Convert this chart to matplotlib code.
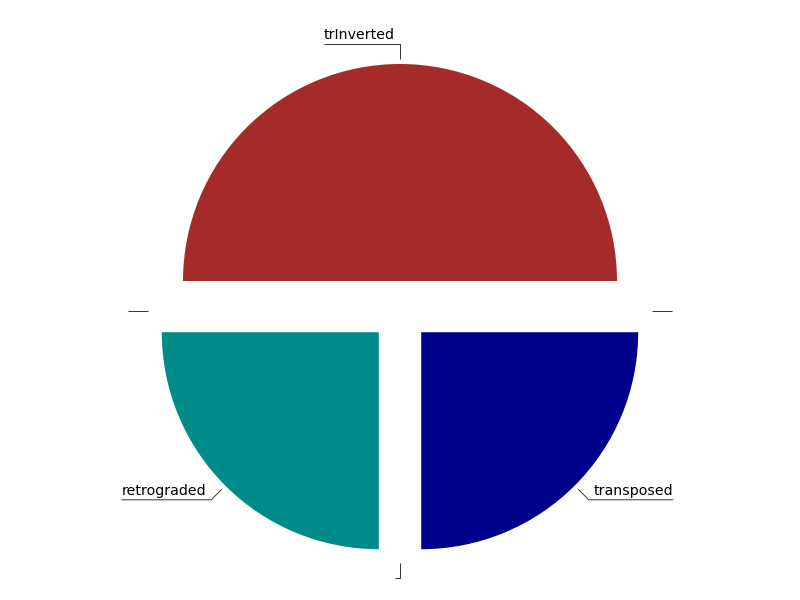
import numpy as np
import matplotlib
matplotlib.use("Agg")
import matplotlib.pyplot as plt

labels = ["trInverted", "", "retrograded", "", "transposed", ""]
values = [2, 0, 1, 0, 1, 0]
colors = ["#A52A2A", "#808080", "#008B8B", "#808080", "#00008B", "#808080"]

PX = 1 / 217.0  # data units per pixel (radius = 217 px)

fig = plt.figure(figsize=(8, 6), dpi=100)
ax = fig.add_axes([0, 0, 1, 1])

explode_px = 30
ax.pie(values, colors=colors, startangle=0, counterclock=True, radius=1,
       explode=[explode_px * PX] * len(values),
       wedgeprops=dict(linewidth=0))
ax.set_xlim(-400 * PX, 400 * PX)
ax.set_ylim(-289 * PX, 311 * PX)
ax.set_aspect("equal", adjustable="box")
ax.axis("off")

fig.canvas.draw()
renderer = fig.canvas.get_renderer()

total = float(sum(values))
cum = 0.0
for lab, v in zip(labels, values):
    theta = np.deg2rad(360.0 * (cum + v / 2.0) / total)
    cum += v
    c, s = np.cos(theta), np.sin(theta)
    r0 = 1 + (explode_px + 5) * PX
    r1 = 1 + (explode_px + 20) * PX
    x0, y0 = r0 * c, r0 * s
    x1, y1 = r1 * c, r1 * s
    right = c > 1e-9
    sign = 1 if right else -1
    pad = 5 * PX
    t = ax.text(x1 + sign * pad, y1 + 2 * PX, lab, fontsize=10.2,
                ha="left" if right else "right", va="bottom", color="black")
    if lab:
        bb = t.get_window_extent(renderer).transformed(ax.transData.inverted())
        x2 = bb.x1 if right else bb.x0
    else:
        x2 = x1 + sign * pad
    ax.plot([x0, x1, x2], [y0, y1, y1], color="#333333", lw=0.7,
            solid_capstyle="butt")

fig.savefig("out.png", dpi=100)
